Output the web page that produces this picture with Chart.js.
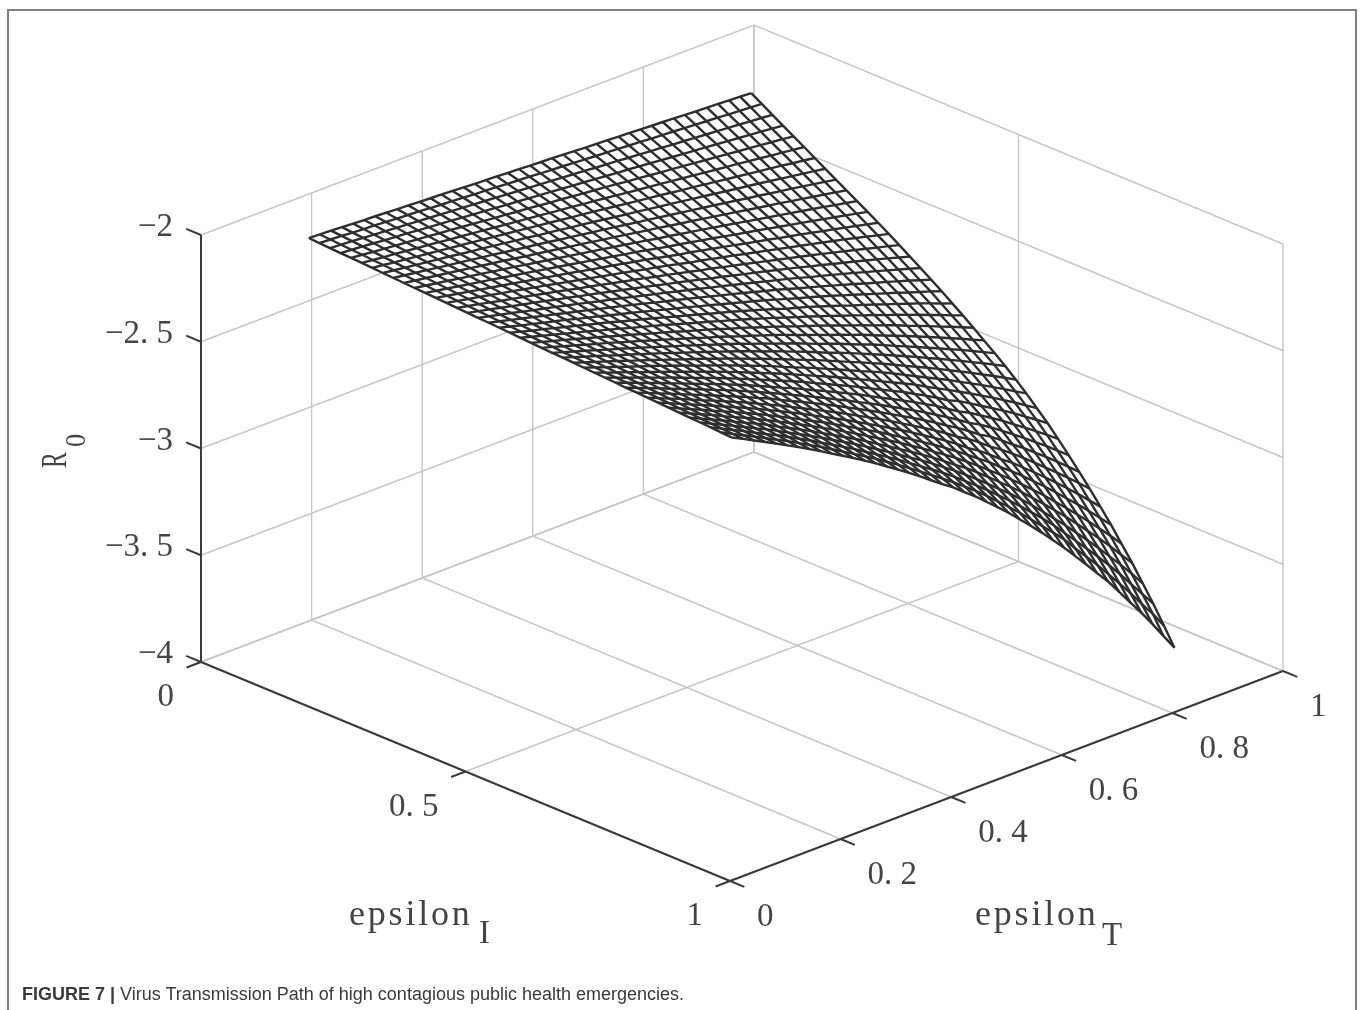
<!DOCTYPE html>
<html>
<head>
<meta charset="utf-8">
<title>Figure 7</title>
<script src="https://cdn.jsdelivr.net/npm/chart.js@4"></script>
<style>
html, body { margin: 0; padding: 0; background: #fff; }
#wrap { position: relative; width: 1360px; height: 1010px; overflow: hidden; }
#surface { position: absolute; left: 0; top: 0; }
#caption { position: absolute; left: 22px; top: 984px; font: 18px "Liberation Sans", sans-serif; color: #3a3a3a; white-space: nowrap; }
</style>
</head>
<body>
<div id="wrap">
<canvas id="surface" width="1360" height="1010"></canvas>
<div id="caption"><b>FIGURE 7 |</b> Virus Transmission Path of high contagious public health emergencies.</div>
</div>
<script>
// mesh nodes
const epsilonI = [0,0.02,0.04,0.06,0.08,0.1,0.12,0.14,0.16,0.18,0.2,0.22,0.24,0.26,0.28,0.3,0.32,0.34,0.36,0.38,0.4,0.42,0.44,0.46,0.48,0.5,0.52,0.54,0.56,0.58,0.6,0.62,0.64,0.66,0.68,0.7,0.72,0.74,0.76,0.78,0.8];
const epsilonT = [0.195,0.215,0.235,0.255,0.275,0.295,0.315,0.335,0.355,0.375,0.395,0.415,0.435,0.455,0.475,0.495,0.515,0.535,0.555,0.575,0.595,0.615,0.635,0.655,0.675,0.695,0.715,0.735,0.755,0.775,0.795,0.815,0.835,0.855,0.875,0.895,0.915,0.935,0.955,0.975,0.995];

// one row per epsilonT, one column per epsilonI
const r0Values = [
[-2.206,-2.209,-2.212,-2.215,-2.217,-2.220,-2.223,-2.226,-2.229,-2.232,-2.235,-2.237,-2.240,-2.243,-2.246,-2.249,-2.252,-2.254,-2.257,-2.260,-2.263,-2.266,-2.269,-2.272,-2.274,-2.277,-2.280,-2.283,-2.286,-2.289,-2.292,-2.294,-2.297,-2.300,-2.303,-2.306,-2.309,-2.311,-2.314,-2.317,-2.320],
[-2.209,-2.212,-2.216,-2.219,-2.222,-2.226,-2.229,-2.233,-2.236,-2.240,-2.243,-2.247,-2.250,-2.253,-2.257,-2.260,-2.264,-2.267,-2.271,-2.274,-2.278,-2.281,-2.284,-2.288,-2.291,-2.295,-2.298,-2.302,-2.305,-2.308,-2.312,-2.315,-2.319,-2.322,-2.326,-2.329,-2.333,-2.336,-2.339,-2.343,-2.346],
[-2.211,-2.215,-2.219,-2.223,-2.228,-2.232,-2.236,-2.240,-2.244,-2.248,-2.252,-2.256,-2.260,-2.264,-2.268,-2.272,-2.276,-2.280,-2.285,-2.289,-2.293,-2.297,-2.301,-2.305,-2.309,-2.313,-2.317,-2.321,-2.325,-2.329,-2.333,-2.337,-2.341,-2.345,-2.349,-2.353,-2.357,-2.361,-2.365,-2.369,-2.373],
[-2.214,-2.219,-2.223,-2.228,-2.233,-2.237,-2.242,-2.247,-2.251,-2.256,-2.260,-2.265,-2.270,-2.274,-2.279,-2.284,-2.288,-2.293,-2.298,-2.302,-2.307,-2.311,-2.316,-2.321,-2.325,-2.330,-2.335,-2.339,-2.344,-2.349,-2.353,-2.358,-2.362,-2.367,-2.372,-2.376,-2.381,-2.386,-2.390,-2.395,-2.400],
[-2.217,-2.222,-2.228,-2.233,-2.238,-2.243,-2.249,-2.254,-2.259,-2.264,-2.270,-2.275,-2.280,-2.285,-2.291,-2.296,-2.301,-2.306,-2.312,-2.317,-2.322,-2.327,-2.333,-2.338,-2.343,-2.348,-2.354,-2.359,-2.364,-2.369,-2.375,-2.380,-2.385,-2.390,-2.396,-2.401,-2.406,-2.411,-2.417,-2.422,-2.427],
[-2.220,-2.225,-2.231,-2.237,-2.243,-2.249,-2.255,-2.261,-2.267,-2.272,-2.278,-2.284,-2.290,-2.296,-2.302,-2.308,-2.314,-2.320,-2.325,-2.331,-2.337,-2.343,-2.349,-2.355,-2.361,-2.367,-2.372,-2.378,-2.384,-2.390,-2.396,-2.402,-2.408,-2.413,-2.419,-2.425,-2.431,-2.437,-2.443,-2.449,-2.455],
[-2.222,-2.228,-2.235,-2.241,-2.248,-2.254,-2.261,-2.267,-2.274,-2.280,-2.287,-2.293,-2.300,-2.306,-2.313,-2.319,-2.326,-2.332,-2.338,-2.345,-2.351,-2.358,-2.364,-2.371,-2.377,-2.384,-2.390,-2.397,-2.403,-2.410,-2.416,-2.423,-2.429,-2.436,-2.442,-2.448,-2.455,-2.461,-2.468,-2.475,-2.483],
[-2.225,-2.232,-2.239,-2.246,-2.253,-2.260,-2.268,-2.275,-2.282,-2.289,-2.296,-2.303,-2.310,-2.317,-2.324,-2.331,-2.338,-2.346,-2.353,-2.360,-2.367,-2.374,-2.381,-2.388,-2.395,-2.402,-2.409,-2.416,-2.424,-2.431,-2.438,-2.445,-2.452,-2.459,-2.466,-2.473,-2.480,-2.488,-2.496,-2.504,-2.512],
[-2.228,-2.235,-2.243,-2.251,-2.259,-2.267,-2.274,-2.282,-2.290,-2.297,-2.305,-2.313,-2.320,-2.328,-2.336,-2.344,-2.351,-2.359,-2.367,-2.374,-2.382,-2.390,-2.398,-2.405,-2.413,-2.421,-2.428,-2.436,-2.444,-2.452,-2.459,-2.467,-2.475,-2.482,-2.490,-2.499,-2.508,-2.516,-2.524,-2.533,-2.541],
[-2.230,-2.238,-2.247,-2.255,-2.263,-2.272,-2.280,-2.288,-2.297,-2.305,-2.313,-2.322,-2.330,-2.338,-2.347,-2.355,-2.363,-2.372,-2.380,-2.388,-2.397,-2.405,-2.413,-2.422,-2.430,-2.439,-2.447,-2.455,-2.464,-2.472,-2.480,-2.489,-2.497,-2.506,-2.515,-2.525,-2.534,-2.543,-2.552,-2.561,-2.572],
[-2.233,-2.242,-2.251,-2.260,-2.269,-2.278,-2.287,-2.296,-2.305,-2.314,-2.323,-2.332,-2.341,-2.350,-2.359,-2.368,-2.377,-2.386,-2.395,-2.404,-2.413,-2.422,-2.431,-2.440,-2.449,-2.458,-2.467,-2.475,-2.484,-2.493,-2.502,-2.512,-2.522,-2.531,-2.541,-2.551,-2.561,-2.571,-2.582,-2.592,-2.602],
[-2.236,-2.246,-2.255,-2.265,-2.274,-2.284,-2.294,-2.303,-2.313,-2.323,-2.332,-2.342,-2.351,-2.361,-2.371,-2.380,-2.390,-2.399,-2.409,-2.419,-2.428,-2.438,-2.447,-2.457,-2.467,-2.476,-2.486,-2.495,-2.505,-2.515,-2.525,-2.536,-2.546,-2.556,-2.567,-2.578,-2.588,-2.599,-2.611,-2.623,-2.633],
[-2.238,-2.249,-2.259,-2.270,-2.280,-2.290,-2.300,-2.311,-2.321,-2.331,-2.341,-2.351,-2.361,-2.372,-2.382,-2.392,-2.402,-2.412,-2.423,-2.433,-2.443,-2.453,-2.464,-2.474,-2.484,-2.494,-2.505,-2.515,-2.526,-2.537,-2.548,-2.558,-2.570,-2.582,-2.594,-2.605,-2.617,-2.629,-2.641,-2.653,-2.664],
[-2.241,-2.252,-2.263,-2.274,-2.285,-2.296,-2.306,-2.317,-2.328,-2.339,-2.350,-2.361,-2.372,-2.383,-2.394,-2.405,-2.415,-2.426,-2.437,-2.448,-2.459,-2.470,-2.481,-2.492,-2.503,-2.514,-2.525,-2.536,-2.548,-2.560,-2.572,-2.584,-2.596,-2.608,-2.621,-2.633,-2.646,-2.658,-2.671,-2.684,-2.697],
[-2.244,-2.256,-2.267,-2.279,-2.290,-2.302,-2.313,-2.325,-2.336,-2.348,-2.360,-2.371,-2.383,-2.394,-2.406,-2.417,-2.429,-2.440,-2.452,-2.463,-2.475,-2.487,-2.498,-2.510,-2.521,-2.533,-2.545,-2.557,-2.570,-2.583,-2.595,-2.609,-2.622,-2.635,-2.647,-2.661,-2.675,-2.688,-2.703,-2.716,-2.731],
[-2.247,-2.259,-2.271,-2.284,-2.296,-2.308,-2.320,-2.332,-2.345,-2.357,-2.369,-2.381,-2.393,-2.406,-2.418,-2.430,-2.442,-2.455,-2.467,-2.479,-2.491,-2.503,-2.516,-2.528,-2.540,-2.553,-2.566,-2.579,-2.593,-2.607,-2.620,-2.633,-2.648,-2.662,-2.676,-2.690,-2.704,-2.719,-2.735,-2.750,-2.765],
[-2.249,-2.262,-2.275,-2.288,-2.300,-2.313,-2.326,-2.339,-2.352,-2.365,-2.378,-2.391,-2.403,-2.416,-2.429,-2.442,-2.455,-2.468,-2.481,-2.494,-2.507,-2.519,-2.532,-2.545,-2.559,-2.573,-2.586,-2.600,-2.615,-2.629,-2.644,-2.658,-2.674,-2.689,-2.704,-2.719,-2.735,-2.751,-2.767,-2.783,-2.800],
[-2.252,-2.266,-2.279,-2.293,-2.306,-2.320,-2.333,-2.347,-2.360,-2.374,-2.387,-2.401,-2.414,-2.428,-2.441,-2.455,-2.468,-2.482,-2.495,-2.509,-2.522,-2.536,-2.550,-2.564,-2.578,-2.593,-2.607,-2.622,-2.637,-2.653,-2.669,-2.684,-2.700,-2.716,-2.733,-2.749,-2.766,-2.783,-2.800,-2.818,-2.836],
[-2.255,-2.269,-2.283,-2.298,-2.312,-2.326,-2.340,-2.354,-2.369,-2.383,-2.397,-2.411,-2.425,-2.440,-2.454,-2.468,-2.482,-2.496,-2.511,-2.525,-2.539,-2.554,-2.569,-2.584,-2.599,-2.614,-2.630,-2.645,-2.660,-2.678,-2.694,-2.710,-2.727,-2.745,-2.762,-2.780,-2.798,-2.816,-2.835,-2.854,-2.874],
[-2.257,-2.272,-2.287,-2.302,-2.316,-2.331,-2.346,-2.361,-2.376,-2.391,-2.406,-2.420,-2.435,-2.450,-2.465,-2.480,-2.495,-2.510,-2.525,-2.540,-2.555,-2.570,-2.586,-2.602,-2.618,-2.635,-2.652,-2.668,-2.685,-2.702,-2.720,-2.737,-2.755,-2.773,-2.791,-2.810,-2.830,-2.849,-2.870,-2.890,-2.912],
[-2.260,-2.276,-2.291,-2.307,-2.322,-2.338,-2.353,-2.369,-2.384,-2.400,-2.416,-2.431,-2.447,-2.462,-2.478,-2.493,-2.509,-2.524,-2.540,-2.555,-2.571,-2.588,-2.604,-2.622,-2.638,-2.656,-2.673,-2.691,-2.709,-2.727,-2.745,-2.764,-2.783,-2.802,-2.822,-2.841,-2.862,-2.882,-2.904,-2.926,-2.947],
[-2.263,-2.279,-2.295,-2.312,-2.328,-2.344,-2.360,-2.377,-2.393,-2.409,-2.425,-2.442,-2.458,-2.474,-2.490,-2.506,-2.523,-2.539,-2.555,-2.571,-2.588,-2.606,-2.622,-2.641,-2.659,-2.677,-2.695,-2.714,-2.733,-2.752,-2.772,-2.791,-2.811,-2.832,-2.853,-2.874,-2.895,-2.917,-2.940,-2.964,-2.989],
[-2.265,-2.282,-2.299,-2.316,-2.333,-2.350,-2.367,-2.384,-2.401,-2.418,-2.436,-2.453,-2.470,-2.487,-2.503,-2.520,-2.536,-2.553,-2.570,-2.587,-2.605,-2.623,-2.641,-2.660,-2.679,-2.698,-2.718,-2.737,-2.757,-2.777,-2.798,-2.819,-2.840,-2.861,-2.884,-2.906,-2.929,-2.953,-2.977,-3.003,-3.028],
[-2.268,-2.286,-2.303,-2.321,-2.338,-2.356,-2.374,-2.391,-2.409,-2.426,-2.444,-2.462,-2.479,-2.497,-2.514,-2.532,-2.550,-2.567,-2.585,-2.604,-2.622,-2.642,-2.661,-2.681,-2.701,-2.720,-2.741,-2.761,-2.782,-2.804,-2.825,-2.847,-2.870,-2.893,-2.917,-2.941,-2.965,-2.989,-3.017,-3.043,-3.073],
[-2.271,-2.289,-2.308,-2.326,-2.344,-2.363,-2.381,-2.399,-2.417,-2.436,-2.454,-2.472,-2.491,-2.509,-2.527,-2.546,-2.564,-2.582,-2.600,-2.621,-2.640,-2.661,-2.681,-2.702,-2.723,-2.743,-2.764,-2.786,-2.808,-2.831,-2.853,-2.876,-2.900,-2.925,-2.949,-2.975,-3.002,-3.028,-3.057,-3.086,-3.118],
[-2.274,-2.293,-2.312,-2.331,-2.350,-2.369,-2.388,-2.407,-2.426,-2.445,-2.464,-2.483,-2.502,-2.521,-2.540,-2.559,-2.578,-2.597,-2.617,-2.639,-2.658,-2.679,-2.700,-2.721,-2.743,-2.765,-2.788,-2.810,-2.834,-2.857,-2.881,-2.905,-2.931,-2.957,-2.983,-3.009,-3.037,-3.068,-3.099,-3.132,-3.164],
[-2.276,-2.296,-2.315,-2.335,-2.355,-2.375,-2.394,-2.414,-2.434,-2.453,-2.473,-2.493,-2.513,-2.532,-2.552,-2.572,-2.592,-2.611,-2.633,-2.654,-2.675,-2.697,-2.720,-2.741,-2.764,-2.787,-2.810,-2.835,-2.859,-2.884,-2.909,-2.935,-2.962,-2.989,-3.018,-3.047,-3.077,-3.110,-3.143,-3.177,-3.214],
[-2.279,-2.299,-2.320,-2.340,-2.361,-2.381,-2.402,-2.422,-2.442,-2.463,-2.483,-2.504,-2.524,-2.545,-2.565,-2.585,-2.606,-2.627,-2.650,-2.670,-2.693,-2.716,-2.739,-2.763,-2.786,-2.810,-2.833,-2.860,-2.884,-2.911,-2.938,-2.966,-2.995,-3.024,-3.054,-3.085,-3.118,-3.153,-3.187,-3.225,-3.264],
[-2.282,-2.303,-2.324,-2.345,-2.367,-2.388,-2.409,-2.430,-2.451,-2.472,-2.493,-2.515,-2.536,-2.557,-2.578,-2.599,-2.620,-2.643,-2.665,-2.688,-2.711,-2.736,-2.759,-2.784,-2.809,-2.833,-2.858,-2.884,-2.913,-2.940,-2.969,-2.999,-3.031,-3.063,-3.092,-3.126,-3.161,-3.195,-3.234,-3.275,-3.316],
[-2.284,-2.306,-2.328,-2.350,-2.372,-2.394,-2.415,-2.437,-2.459,-2.481,-2.503,-2.525,-2.547,-2.569,-2.591,-2.612,-2.635,-2.659,-2.681,-2.705,-2.730,-2.755,-2.778,-2.803,-2.831,-2.857,-2.884,-2.909,-2.940,-2.968,-3.000,-3.030,-3.061,-3.095,-3.129,-3.166,-3.203,-3.241,-3.282,-3.325,-3.370],
[-2.287,-2.310,-2.332,-2.355,-2.377,-2.400,-2.423,-2.445,-2.468,-2.490,-2.513,-2.535,-2.558,-2.581,-2.603,-2.626,-2.651,-2.674,-2.697,-2.723,-2.748,-2.774,-2.800,-2.826,-2.854,-2.882,-2.910,-2.939,-2.970,-3.001,-3.032,-3.064,-3.097,-3.134,-3.172,-3.208,-3.247,-3.289,-3.330,-3.376,-3.425],
[-2.290,-2.313,-2.337,-2.360,-2.383,-2.407,-2.430,-2.453,-2.476,-2.500,-2.523,-2.546,-2.570,-2.593,-2.616,-2.641,-2.665,-2.690,-2.715,-2.742,-2.768,-2.794,-2.821,-2.849,-2.877,-2.906,-2.936,-2.966,-3.001,-3.033,-3.066,-3.101,-3.136,-3.174,-3.210,-3.252,-3.295,-3.339,-3.381,-3.428,-3.484],
[-2.292,-2.316,-2.340,-2.365,-2.389,-2.413,-2.437,-2.461,-2.485,-2.509,-2.533,-2.557,-2.581,-2.605,-2.629,-2.654,-2.680,-2.706,-2.732,-2.759,-2.786,-2.813,-2.842,-2.871,-2.900,-2.930,-2.961,-2.993,-3.025,-3.059,-3.094,-3.130,-3.170,-3.210,-3.252,-3.297,-3.342,-3.390,-3.438,-3.490,-3.543],
[-2.295,-2.320,-2.345,-2.369,-2.394,-2.419,-2.444,-2.468,-2.493,-2.518,-2.543,-2.568,-2.592,-2.617,-2.642,-2.669,-2.695,-2.722,-2.749,-2.777,-2.806,-2.833,-2.863,-2.894,-2.925,-2.955,-2.987,-3.021,-3.055,-3.091,-3.127,-3.167,-3.208,-3.253,-3.297,-3.343,-3.392,-3.441,-3.494,-3.548,-3.604],
[-2.298,-2.323,-2.349,-2.374,-2.400,-2.425,-2.451,-2.476,-2.502,-2.527,-2.553,-2.578,-2.604,-2.629,-2.656,-2.683,-2.710,-2.739,-2.767,-2.796,-2.824,-2.855,-2.885,-2.917,-2.948,-2.981,-3.015,-3.049,-3.086,-3.123,-3.163,-3.206,-3.248,-3.295,-3.341,-3.392,-3.442,-3.496,-3.551,-3.607,-3.663],
[-2.301,-2.327,-2.353,-2.379,-2.406,-2.432,-2.458,-2.484,-2.511,-2.537,-2.563,-2.589,-2.616,-2.642,-2.669,-2.697,-2.726,-2.755,-2.784,-2.813,-2.844,-2.875,-2.907,-2.940,-2.973,-3.007,-3.042,-3.079,-3.117,-3.156,-3.199,-3.243,-3.290,-3.338,-3.388,-3.441,-3.494,-3.551,-3.608,-3.670,-3.731],
[-2.303,-2.330,-2.357,-2.384,-2.411,-2.438,-2.465,-2.492,-2.519,-2.546,-2.573,-2.600,-2.627,-2.654,-2.683,-2.712,-2.741,-2.771,-2.801,-2.832,-2.863,-2.896,-2.929,-2.963,-2.997,-3.033,-3.070,-3.108,-3.148,-3.192,-3.236,-3.283,-3.333,-3.383,-3.437,-3.491,-3.548,-3.607,-3.667,-3.733,-3.800],
[-2.306,-2.334,-2.361,-2.389,-2.417,-2.445,-2.472,-2.500,-2.528,-2.556,-2.583,-2.611,-2.639,-2.667,-2.697,-2.726,-2.757,-2.788,-2.820,-2.850,-2.884,-2.918,-2.952,-2.986,-3.023,-3.060,-3.099,-3.139,-3.181,-3.227,-3.274,-3.323,-3.375,-3.429,-3.484,-3.542,-3.602,-3.666,-3.729,-3.798,-3.868],
[-2.309,-2.337,-2.366,-2.394,-2.423,-2.451,-2.480,-2.508,-2.537,-2.565,-2.594,-2.622,-2.651,-2.680,-2.711,-2.741,-2.773,-2.804,-2.837,-2.870,-2.904,-2.938,-2.974,-3.011,-3.048,-3.087,-3.128,-3.170,-3.216,-3.263,-3.313,-3.365,-3.419,-3.476,-3.535,-3.596,-3.658,-3.724,-3.795,-3.867,-3.940],
[-2.311,-2.341,-2.370,-2.399,-2.428,-2.458,-2.487,-2.516,-2.546,-2.575,-2.604,-2.633,-2.663,-2.694,-2.724,-2.757,-2.789,-2.822,-2.854,-2.890,-2.925,-2.960,-2.998,-3.036,-3.074,-3.115,-3.158,-3.203,-3.250,-3.300,-3.354,-3.408,-3.464,-3.525,-3.586,-3.650,-3.718,-3.786,-3.860,-3.933,-4.016],
[-2.314,-2.344,-2.375,-2.405,-2.435,-2.464,-2.495,-2.525,-2.555,-2.585,-2.615,-2.645,-2.675,-2.707,-2.739,-2.772,-2.805,-2.839,-2.873,-2.909,-2.945,-2.982,-3.021,-3.060,-3.100,-3.143,-3.187,-3.236,-3.285,-3.339,-3.394,-3.452,-3.511,-3.574,-3.638,-3.707,-3.776,-3.851,-3.926,-4.008,-4.091]
];

const r0Ticks = [-4, -3.5, -3, -2.5, -2];
const r0TickLabels = ["\u22124", "\u22123. 5", "\u22123", "\u22122. 5", "\u22122"];
const iTicks = [0, 0.5, 1];
const iTickLabels = ["0", "0. 5", "1"];
const tTicks = [0, 0.2, 0.4, 0.6, 0.8, 1];
const tTickLabels = ["0", "0. 2", "0. 4", "0. 6", "0. 8", "1"];

// fixed MATLAB-like view of the (epsilonI, epsilonT, R0) box
function project(i, t, z) {
    return { x: 201 + 529 * i + 553 * t, y: 662 + 219 * i - 210 * t - 213.5 * (z + 4) };
}

function lineSet(points, color, width, order) {
    return { data: points, borderColor: color, borderWidth: width, order: order, showLine: true, pointRadius: 0, tension: 0, fill: false, clip: false };
}

const GRID = "#c6c6c6";
const AXIS = "#3a3a3a";
const MESH = "#2e2e2e";
const datasets = [];

// mesh lines in both directions
r0Values.forEach((row, j) => {
    datasets.push(lineSet(row.map((z, k) => project(epsilonI[k], epsilonT[j], z)), MESH, 2.4, 1));
});
epsilonI.forEach((v, k) => {
    datasets.push(lineSet(r0Values.map((row, j) => project(v, epsilonT[j], row[k])), MESH, 2.4, 1));
});

// white face so the grid is hidden behind the surface
const last = epsilonI.length - 1;
const outline = [];
r0Values.forEach((row, j) => outline.push(project(epsilonI[0], epsilonT[j], row[0])));
r0Values[last].forEach((z, k) => outline.push(project(epsilonI[k], epsilonT[last], z)));
for (let j = last; j >= 0; j--) outline.push(project(epsilonI[last], epsilonT[j], r0Values[j][last]));
for (let k = last; k >= 0; k--) outline.push(project(epsilonI[k], epsilonT[0], r0Values[0][k]));
const face = lineSet(outline, "#fff", 0, 2);
face.fill = "shape";
face.backgroundColor = "#fff";
datasets.push(face);

// axes and tick marks
datasets.push(lineSet([project(0, 0, -2), project(0, 0, -4)], AXIS, 2, 3));
datasets.push(lineSet([project(0, 0, -4), project(1, 0, -4)], AXIS, 2, 3));
datasets.push(lineSet([project(1, 0, -4), project(1, 1, -4)], AXIS, 2, 3));
r0Ticks.forEach(z => datasets.push(lineSet([project(0, 0, z), project(-0.028, 0, z)], AXIS, 2, 3)));
iTicks.forEach(v => datasets.push(lineSet([project(v, 0, -4), project(v, -0.026, -4)], AXIS, 2, 3)));
tTicks.forEach(v => datasets.push(lineSet([project(1, v, -4), project(1.027, v, -4)], AXIS, 2, 3)));

// floor and back wall grid
iTicks.forEach(v => {
    datasets.push(lineSet([project(v, 0, -4), project(v, 1, -4), project(v, 1, -2)], GRID, 1.4, 4));
});
tTicks.forEach(v => {
    datasets.push(lineSet([project(1, v, -4), project(0, v, -4), project(0, v, -2)], GRID, 1.4, 4));
});
r0Ticks.forEach(z => {
    datasets.push(lineSet([project(0, 0, z), project(0, 1, z), project(1, 1, z)], GRID, 1.4, 4));
});

const TICK_FONT = '33px "Liberation Serif", serif';

const figureText = {
    id: "figureText",
    beforeDraw(chart) {
        const ctx = chart.ctx;
        ctx.save();
        ctx.fillStyle = "#fff";
        ctx.fillRect(0, 0, 1360, 1010);
        ctx.strokeStyle = "#808080";
        ctx.lineWidth = 2;
        ctx.beginPath();
        ctx.moveTo(8, 1010);
        ctx.lineTo(8, 10);
        ctx.lineTo(1356, 10);
        ctx.lineTo(1356, 1010);
        ctx.stroke();
        ctx.restore();
    },
    afterDraw(chart) {
        const ctx = chart.ctx;
        ctx.save();
        ctx.fillStyle = "#444";
        ctx.font = TICK_FONT;
        ctx.textBaseline = "alphabetic";

        ctx.textAlign = "right";
        r0Ticks.forEach((z, n) => {
            const p = project(0, 0, z);
            ctx.fillText(r0TickLabels[n], p.x - 28, p.y + 1);
        });
        iTicks.forEach((v, n) => {
            const p = project(v, 0, -4);
            ctx.fillText(iTickLabels[n], p.x - 27, p.y + 44);
        });
        ctx.textAlign = "left";
        tTicks.forEach((v, n) => {
            const p = project(1, v, -4);
            ctx.fillText(tTickLabels[n], p.x + 27, p.y + 45);
        });

        ctx.font = '36px "Liberation Serif", serif';
        ctx.letterSpacing = "2.8px";
        ctx.fillText("epsilon", 349, 925);
        ctx.fillText("epsilon", 975, 925);
        ctx.letterSpacing = "0px";
        ctx.font = TICK_FONT;
        ctx.fillText("I", 479, 943);
        ctx.fillText("T", 1102, 945);

        ctx.save();
        ctx.translate(66, 468);
        ctx.rotate(-Math.PI / 2);
        ctx.scale(0.72, 1.1);
        ctx.fillText("R", 0, 0);
        ctx.restore();
        ctx.save();
        ctx.translate(85, 447);
        ctx.rotate(-Math.PI / 2);
        ctx.scale(0.8, 0.9);
        ctx.fillText("0", 0, 0);
        ctx.restore();
        ctx.restore();
    }
};

new Chart(document.getElementById("surface"), {
    type: "scatter",
    data: { datasets: datasets },
    options: {
        responsive: false,
        animation: false,
        layout: { padding: 0 },
        scales: {
            x: { type: "linear", display: false, min: 0, max: 1360 },
            y: { type: "linear", display: false, min: 0, max: 1010, reverse: true }
        },
        plugins: { legend: { display: false }, title: { display: false }, tooltip: { enabled: false } }
    },
    plugins: [figureText]
});
</script>
</body>
</html>
